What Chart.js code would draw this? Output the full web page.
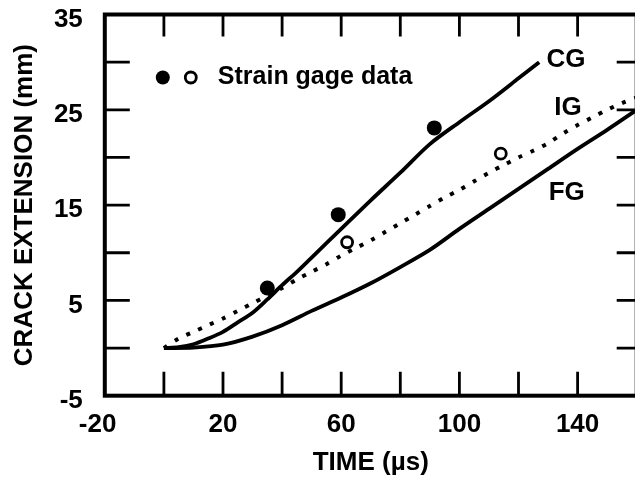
<!DOCTYPE html>
<html>
<head>
<meta charset="utf-8">
<script src="https://cdn.jsdelivr.net/npm/chart.js@4"></script>
<style>
  html, body { margin: 0; padding: 0; background: #fff; overflow: hidden; }
</style>
</head>
<body>
<canvas id="chart" width="645" height="485"></canvas>
<script>
// crack extension vs time
const cgTime = [0, 5, 10, 15, 20, 25, 30, 35, 40, 45, 50, 60, 70, 80, 90, 100, 110, 120, 127];
const cgExt = [0, 0.1, 0.4, 1.0, 1.7, 2.7, 3.7, 5.1, 6.6, 8.0, 9.5, 12.5, 15.5, 18.4, 21.4, 23.7, 25.9, 28.3, 30.0];

const igTime = [0, 5, 10, 15, 20, 25, 30, 35, 40, 45, 50, 55, 60, 65, 70, 75, 80, 85, 90, 95, 100, 105, 110, 115, 120, 125, 130, 135, 140, 145, 150, 155, 160];
const igExt = [0, 1.0, 1.7, 2.4, 3.1, 3.9, 4.7, 5.5, 6.3, 7.2, 8.0, 8.8, 9.7, 10.5, 11.3, 12.2, 13.1, 14.0, 14.9, 15.8, 16.6, 17.5, 18.4, 19.2, 20.0, 20.7, 21.5, 22.5, 23.4, 24.2, 25.0, 25.7, 26.3];

const fgTime = [0, 10, 20, 30, 40, 50, 60, 70, 80, 90, 100, 110, 120, 130, 140, 150, 160];
const fgExt = [0, 0.05, 0.35, 1.2, 2.4, 3.9, 5.3, 6.8, 8.5, 10.3, 12.5, 14.6, 16.7, 18.8, 20.9, 22.9, 25.0];

const filledTime = [35, 59, 91.5];
const filledExt = [6.3, 14.0, 23.1];
const openTime = [62, 114];
const openExt = [11.1, 20.4];

const xLabels = [-20, 20, 60, 100, 140];
const yLabels = [35, 25, 15, 5, -5];
const xMarks = [0, 20, 40, 60, 80, 100, 120, 140];
const yMarks = [0, 5, 10, 15, 20, 25, 30];

const curveNames = ['CG', 'IG', 'FG'];
const curveNameAt = [[129.5, 30.2], [132.1, 25.2], [130.2, 16.3]];

const FONT = "'Liberation Sans', Arial, Helvetica, sans-serif";

function toPoints(xs, ys) {
    return xs.map((x, i) => ({ x: x, y: ys[i] }));
}

function noPadding(scale) {
    scale.paddingLeft = 0;
    scale.paddingRight = 0;
    scale.paddingTop = 0;
    scale.paddingBottom = 0;
}

const frame = {
    id: 'frame',
    afterDatasetsDraw: (chart) => {
        const ctx = chart.ctx;
        const a = chart.chartArea;
        const x = chart.scales.x;
        const y = chart.scales.y;
        ctx.save();
        ctx.strokeStyle = '#000';
        ctx.fillStyle = '#000';

        // inward tick marks on all four sides
        ctx.lineWidth = 2.8;
        ctx.beginPath();
        xMarks.forEach(v => {
            const px = x.getPixelForValue(v);
            ctx.moveTo(px, a.bottom);
            ctx.lineTo(px, a.bottom - 24);
            ctx.moveTo(px, a.top);
            ctx.lineTo(px, a.top + 22);
        });
        yMarks.forEach(v => {
            const py = y.getPixelForValue(v);
            ctx.moveTo(a.left, py);
            ctx.lineTo(a.left + 25, py);
            ctx.moveTo(a.right, py);
            ctx.lineTo(a.right - 20, py);
        });
        ctx.stroke();

        ctx.lineWidth = 4;
        ctx.strokeRect(a.left, a.top, a.right - a.left, a.bottom - a.top);

        // curve names
        ctx.font = 'bold 26px ' + FONT;
        ctx.textAlign = 'left';
        ctx.textBaseline = 'middle';
        curveNames.forEach((name, i) => {
            ctx.fillText(name, x.getPixelForValue(curveNameAt[i][0]), y.getPixelForValue(curveNameAt[i][1]));
        });

        // legend
        const lx = a.left + 58;
        const ly = a.top + 63;
        ctx.beginPath();
        ctx.arc(lx, ly, 7, 0, Math.PI * 2);
        ctx.fill();
        ctx.lineWidth = 2.8;
        ctx.beginPath();
        ctx.arc(lx + 28, ly, 5.5, 0, Math.PI * 2);
        ctx.stroke();
        ctx.font = 'bold 25px ' + FONT;
        ctx.fillText('Strain gage data', lx + 55, ly);

        ctx.restore();
    }
};

const data = {
    datasets: [
        {
            label: 'CG',
            data: toPoints(cgTime, cgExt),
            showLine: true,
            borderColor: '#000',
            borderWidth: 3.8,
            pointRadius: 0,
            tension: 0.3
        },
        {
            label: 'IG',
            data: toPoints(igTime, igExt),
            showLine: true,
            borderColor: '#000',
            borderWidth: 4,
            borderDash: [4, 9],
            pointRadius: 0,
            tension: 0.3
        },
        {
            label: 'FG',
            data: toPoints(fgTime, fgExt),
            showLine: true,
            borderColor: '#000',
            borderWidth: 3.8,
            pointRadius: 0,
            tension: 0.3
        },
        {
            label: 'Strain gage (filled)',
            data: toPoints(filledTime, filledExt),
            showLine: false,
            pointRadius: 7.5,
            backgroundColor: '#000',
            borderColor: '#000',
            borderWidth: 0
        },
        {
            label: 'Strain gage (open)',
            data: toPoints(openTime, openExt),
            showLine: false,
            pointRadius: 5.5,
            backgroundColor: '#fff',
            borderColor: '#000',
            borderWidth: 2.8
        }
    ]
};

const config = {
    type: 'scatter',
    data: data,
    options: {
        responsive: false,
        animation: false,
        devicePixelRatio: 1,
        layout: {
            padding: { top: 14.5, right: 8, left: 0, bottom: 0 }
        },
        plugins: {
            legend: { display: false },
            tooltip: { enabled: false }
        },
        scales: {
            x: {
                type: 'linear',
                min: -20,
                max: 160,
                afterFit: (scale) => { scale.height = 89.3; noPadding(scale); },
                grid: { display: false, drawTicks: false },
                border: { display: false },
                ticks: {
                    stepSize: 20,
                    autoSkip: false,
                    maxRotation: 0,
                    padding: 14,
                    color: '#000',
                    font: { family: FONT, size: 26, weight: 'bold' },
                    callback: function (value) {
                        if (!xLabels.includes(value)) return '';
                        return value < 0 ? value + '  ' : String(value);
                    }
                },
                title: {
                    display: true,
                    text: 'TIME (µs)',
                    color: '#000',
                    font: { family: FONT, size: 26, weight: 'bold' },
                    padding: { top: 0, bottom: 7 }
                }
            },
            y: {
                min: -5,
                max: 35,
                afterFit: (scale) => { scale.width = 104.8; noPadding(scale); },
                grid: { display: false, drawTicks: false },
                border: { display: false },
                ticks: {
                    stepSize: 5,
                    autoSkip: false,
                    padding: 22,
                    labelOffset: 5,
                    color: '#000',
                    font: { family: FONT, size: 26, weight: 'bold' },
                    callback: function (value) {
                        return yLabels.includes(value) ? String(value) : '';
                    }
                },
                title: {
                    display: true,
                    text: 'CRACK EXTENSION (mm)',
                    color: '#000',
                    font: { family: FONT, size: 26, weight: 'bold' },
                    padding: { top: 9, bottom: 0 }
                }
            }
        }
    },
    plugins: [frame]
};

const chart = new Chart(document.getElementById('chart'), config);
</script>
</body>
</html>
